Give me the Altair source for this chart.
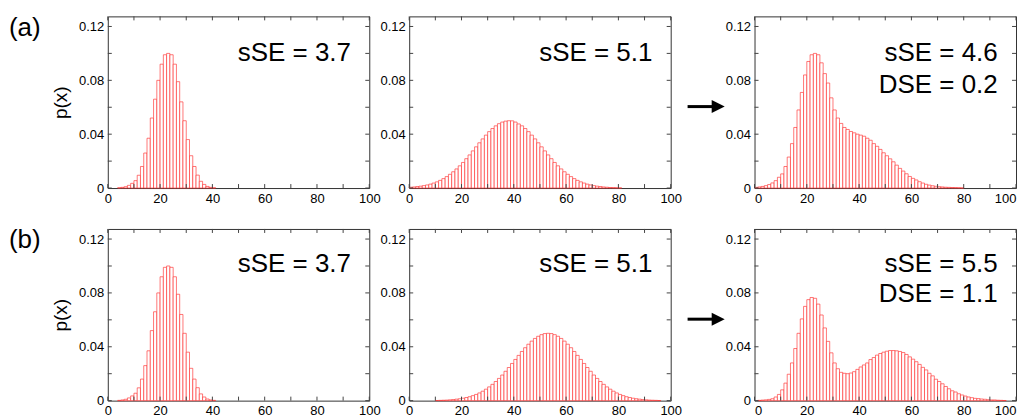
import altair as alt
import pandas as pd

# Histogram bins: 80 bins of width 1.25 over 0..100
BIN = 1.25
edges = [round(i * BIN, 4) for i in range(81)]

# p(x) per bin, one list per distribution
narrow = [0, 0, 0, 0.0002, 0.0005, 0.0010, 0.0020, 0.0035, 0.0055, 0.0095,
          0.016, 0.026, 0.037, 0.052, 0.066, 0.080, 0.092, 0.099, 0.100, 0.099,
          0.092, 0.079, 0.064, 0.050, 0.036, 0.024, 0.016, 0.0096, 0.0050, 0.0027,
          0.0012, 0.0005, 0.0002, 0, 0, 0, 0, 0, 0, 0,
          0, 0, 0, 0, 0, 0, 0, 0, 0, 0,
          0, 0, 0, 0, 0, 0, 0, 0, 0, 0,
          0, 0, 0, 0, 0, 0, 0, 0, 0, 0,
          0, 0, 0, 0, 0, 0, 0, 0, 0, 0]

wide_a = [0.0006, 0.0008, 0.0011, 0.0014, 0.0018, 0.0023, 0.0029, 0.0037, 0.0046, 0.0057,
          0.0070, 0.0085, 0.0102, 0.0121, 0.0142, 0.0165, 0.0190, 0.0218, 0.0246, 0.0276,
          0.0306, 0.0336, 0.0365, 0.0393, 0.0419, 0.0442, 0.0462, 0.0478, 0.0490, 0.0497,
          0.0500, 0.0499, 0.0490, 0.0476, 0.0462, 0.0442, 0.0419, 0.0393, 0.0365, 0.0336,
          0.0306, 0.0276, 0.0246, 0.0218, 0.0190, 0.0165, 0.0142, 0.0121, 0.0102, 0.0085,
          0.0070, 0.0057, 0.0046, 0.0037, 0.0029, 0.0023, 0.0018, 0.0014, 0.0011, 0.0008,
          0.0006, 0.0004, 0.0003, 0.0002, 0.0001, 0, 0, 0, 0, 0,
          0, 0, 0, 0, 0, 0, 0, 0, 0, 0]

mix_a = [0.0005, 0.0008, 0.0012, 0.0018, 0.0026, 0.0038, 0.0055, 0.0080, 0.0105, 0.016,
         0.023, 0.033, 0.045, 0.058, 0.071, 0.084, 0.094, 0.099, 0.100, 0.099,
         0.093, 0.085, 0.078, 0.067, 0.058, 0.052, 0.048, 0.045, 0.0435, 0.042,
         0.041, 0.040, 0.0393, 0.0385, 0.037, 0.0355, 0.033, 0.031, 0.0287, 0.0262,
         0.024, 0.0217, 0.0195, 0.017, 0.0146, 0.0126, 0.0106, 0.0086, 0.0072, 0.0060,
         0.0047, 0.0037, 0.0028, 0.0022, 0.0017, 0.0013, 0.0010, 0.0008, 0.0006, 0.0005,
         0.0004, 0.0003, 0.0002, 0.0001, 0, 0, 0, 0, 0, 0,
         0, 0, 0, 0, 0, 0, 0, 0, 0, 0]

wide_b = [0, 0, 0, 0, 0, 0, 0, 0, 0.0001, 0.0002,
          0.0003, 0.0004, 0.0006, 0.0008, 0.0011, 0.0014, 0.0018, 0.0023, 0.0029, 0.0037,
          0.0046, 0.0057, 0.0070, 0.0085, 0.0102, 0.0121, 0.0142, 0.0165, 0.0190, 0.0218,
          0.0246, 0.0276, 0.0306, 0.0336, 0.0365, 0.0393, 0.0419, 0.0442, 0.0462, 0.0478,
          0.0490, 0.0498, 0.0500, 0.0498, 0.0490, 0.0478, 0.0462, 0.0442, 0.0419, 0.0393,
          0.0365, 0.0336, 0.0306, 0.0276, 0.0246, 0.0218, 0.0190, 0.0165, 0.0142, 0.0121,
          0.0102, 0.0085, 0.0070, 0.0057, 0.0046, 0.0037, 0.0029, 0.0023, 0.0018, 0.0014,
          0.0011, 0.0008, 0.0006, 0.0004, 0.0003, 0.0002, 0.0001, 0, 0, 0]

mix_b = [0, 0.0002, 0.0004, 0.0006, 0.0009, 0.0014, 0.0027, 0.0046, 0.008, 0.013,
         0.0196, 0.028, 0.0387, 0.050, 0.0607, 0.070, 0.075, 0.0766, 0.076, 0.0717,
         0.0636, 0.054, 0.044, 0.0355, 0.028, 0.0237, 0.021, 0.0203, 0.020, 0.0205,
         0.0215, 0.0232, 0.0250, 0.0265, 0.0280, 0.0305, 0.0320, 0.0338, 0.0350, 0.0360,
         0.0367, 0.0372, 0.0372, 0.0370, 0.0365, 0.0357, 0.0343, 0.0325, 0.0308, 0.0289,
         0.0269, 0.0247, 0.0228, 0.0203, 0.0184, 0.0159, 0.0142, 0.0125, 0.0105, 0.0088,
         0.0073, 0.0064, 0.0051, 0.0042, 0.0034, 0.0027, 0.0022, 0.0017, 0.0015, 0.0012,
         0.0010, 0.0007, 0.0005, 0.0005, 0.0003, 0.0002, 0.0001, 0, 0, 0]

x_labels = [0, 20, 40, 60, 80, 100]
x_ticks = list(range(0, 101, 10))
y_labels = [0, 0.04, 0.08, 0.12]
y_ticks = [0, 0.02, 0.04, 0.06, 0.08, 0.10, 0.12]

FONT = "Liberation Sans"
W, H = 262, 172
YMAX = 0.1275
TICK = 4
TICK_COLOR = "#444"

xs = alt.Scale(domain=[0, 100], nice=False, zero=False)
ys = alt.Scale(domain=[0, YMAX], nice=False)


def bars_df(vals):
    df = pd.DataFrame({"lo": edges[:-1], "hi": edges[1:], "p": vals})
    return df[df["p"] > 0]


def frame_ticks():
    """Inward tick marks on all four sides of a panel."""
    xt = alt.Chart(pd.DataFrame({"v": x_ticks}))
    yt = alt.Chart(pd.DataFrame({"v": y_ticks}))
    style = dict(color=TICK_COLOR, strokeWidth=1)
    bottom = xt.mark_rule(**style).encode(
        x=alt.X("v:Q", scale=xs, axis=None), y=alt.value(H), y2=alt.value(H - TICK))
    top = xt.mark_rule(**style).encode(
        x=alt.X("v:Q", scale=xs, axis=None), y=alt.value(0), y2=alt.value(TICK))
    left = yt.mark_rule(**style).encode(
        y=alt.Y("v:Q", scale=ys, axis=None), x=alt.value(0), x2=alt.value(TICK))
    right = yt.mark_rule(**style).encode(
        y=alt.Y("v:Q", scale=ys, axis=None), x=alt.value(W), x2=alt.value(W - TICK))
    return [bottom, top, left, right]


def panel(vals, lines, line_y, ytitle=False, tag=None, arrow=False, flush=False):
    df = bars_df(vals)

    yaxis_kw = dict(values=y_labels, format=".2~f", ticks=False, tickSize=0,
                    domain=False, grid=False, labelPadding=4)
    if ytitle:
        yaxis_kw.update(title="p(x)", titleFontSize=19, titleFontWeight="normal",
                        titlePadding=8)
    else:
        yaxis_kw.update(title=None)

    bars = alt.Chart(df).mark_bar(fill="white", stroke="#ff3030", strokeOpacity=0.65,
                                  strokeWidth=1).encode(
        x=alt.X("lo:Q", scale=xs,
                axis=alt.Axis(values=x_labels, ticks=False, tickSize=0, domain=False,
                              grid=False, labelPadding=4, labelFlush=flush, title=None)),
        x2="hi:Q",
        y=alt.Y("p:Q", scale=ys, axis=alt.Axis(**yaxis_kw)),
        y2=alt.datum(0),
    )

    tdf = pd.DataFrame({"x": [93] * len(lines), "y": line_y, "t": lines})
    text = alt.Chart(tdf).mark_text(align="right", baseline="alphabetic", fontSize=26,
                                    font=FONT, color="black").encode(
        x=alt.X("x:Q", scale=xs, axis=None),
        y=alt.Y("y:Q", scale=ys, axis=None),
        text="t:N",
    )

    layers = [bars] + frame_ticks() + [text]

    if tag:
        gdf = pd.DataFrame({"x": [-37.8], "y": [0.113], "t": [tag]})
        layers.append(alt.Chart(gdf).mark_text(align="left", baseline="alphabetic",
                                               fontSize=26, font=FONT, color="black").encode(
            x=alt.X("x:Q", scale=xs, axis=None),
            y=alt.Y("y:Q", scale=ys, axis=None),
            text="t:N",
        ))

    if arrow:
        sdf = pd.DataFrame({"x": [-25.6], "x2": [-15.0], "y": [0.0605]})
        layers.append(alt.Chart(sdf).mark_rule(strokeWidth=3, color="black").encode(
            x=alt.X("x:Q", scale=xs, axis=None), x2="x2:Q",
            y=alt.Y("y:Q", scale=ys, axis=None),
        ))
        hdf = pd.DataFrame({"x": [-13.9], "y": [0.0605]})
        layers.append(alt.Chart(hdf).mark_point(shape="M-1,-1L1,0L-1,1Z", size=169,
                                                filled=True, color="black",
                                                opacity=1).encode(
            x=alt.X("x:Q", scale=xs, axis=None),
            y=alt.Y("y:Q", scale=ys, axis=None),
        ))

    return alt.layer(*layers).resolve_axis(
        x="independent", y="independent").properties(width=W, height=H)


def spacer():
    return alt.Chart(pd.DataFrame({"v": [0]})).mark_point(opacity=0).encode(
        x=alt.X("v:Q", axis=None), y=alt.Y("v:Q", axis=None)
    ).properties(width=4, height=H, view=alt.ViewBackground(stroke="transparent"))


ya, ya2 = 0.094, 0.0705
yb, yb2 = 0.0958, 0.073

p1a = panel(narrow, ["sSE = 3.7"], [ya], ytitle=True, tag="(a)")
p2a = panel(wide_a, ["sSE = 5.1"], [ya])
p3a = panel(mix_a, ["sSE = 4.6", "DSE = 0.2"], [ya, ya2], arrow=True, flush=True)
p1b = panel(narrow, ["sSE = 3.7"], [yb], ytitle=True, tag="(b)")
p2b = panel(wide_b, ["sSE = 5.1"], [yb])
p3b = panel(mix_b, ["sSE = 5.5", "DSE = 1.1"], [yb, yb2], arrow=True, flush=True)

chart = alt.concat(
    p1a, p2a, spacer(), p3a,
    p1b, p2b, spacer(), p3b,
    columns=4, spacing={"row": 41, "column": 40}, bounds="flush",
).configure_view(
    stroke="#333", strokeWidth=1
).configure_axis(
    labelFont=FONT, labelFontSize=13, labelColor="black",
    titleFont=FONT, titleColor="black",
).properties(
    padding={"left": 8, "top": 14, "right": 7, "bottom": 0},
    background="white",
)

chart.save("out.html", embed_options={"renderer": "svg", "actions": False})
